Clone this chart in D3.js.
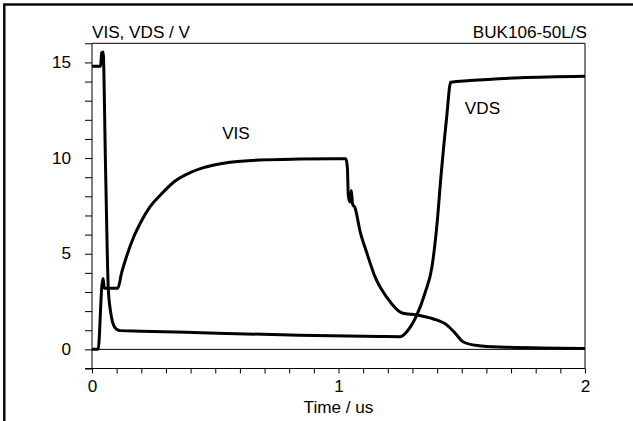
<!DOCTYPE html>
<html>
<head>
<meta charset="utf-8">
<script src="https://cdn.jsdelivr.net/npm/d3@7"></script>
<style>
  html, body { margin: 0; padding: 0; background: #fff; }
  svg { display: block; }
  text { font-family: "Liberation Sans", Arial, sans-serif; fill: #000; }
</style>
</head>
<body>
<svg id="chart" width="633" height="421"></svg>
<script>
// ---- data (time in us, voltage in V) ----
const vdsTime = [0, 0.035, 0.039, 0.045, 0.055, 0.066, 0.075, 0.082, 0.09, 0.1, 0.115, 0.2, 0.44, 0.84, 1.17, 1.25, 1.282, 1.318, 1.351, 1.379, 1.4, 1.416, 1.439, 1.455, 1.533, 1.736, 2.0];
const vdsVolt = [14.8, 14.8, 15.5, 15.55, 9.5, 3.2, 2.0, 1.5, 1.2, 1.05, 0.98, 0.95, 0.87, 0.74, 0.67, 0.66, 1.0, 1.8, 2.95, 4.3, 6.6, 9.1, 12.16, 13.96, 14.05, 14.2, 14.28];

const visTime = [0, 0.025, 0.04, 0.045, 0.05, 0.105, 0.12, 0.14, 0.17, 0.2, 0.235, 0.28, 0.337, 0.4, 0.44, 0.5, 0.56, 0.68, 0.84, 1.03, 1.036, 1.04, 1.047, 1.052, 1.057, 1.067, 1.087, 1.116, 1.148, 1.197, 1.258, 1.318, 1.383, 1.44, 1.473, 1.505, 1.562, 1.655, 2.0];
const visVolt = [0, 0, 3.3, 3.7, 3.2, 3.2, 4.0, 4.85, 5.9, 6.7, 7.45, 8.1, 8.8, 9.25, 9.45, 9.65, 9.78, 9.9, 9.95, 9.97, 9.5, 8.0, 7.7, 8.3, 7.6, 7.4, 6.2, 5.0, 3.8, 2.7, 1.9, 1.8, 1.6, 1.27, 0.85, 0.4, 0.2, 0.12, 0.05];

const xMajorTicks = [0, 1, 2];
const yMajorTicks = [0, 5, 10, 15];
const yTitle = "VIS, VDS / V";
const xTitle = "Time / us";
const deviceLabel = "BUK106-50L/S";
const seriesLabels = ["VIS", "VDS"];

// ---- layout ----
const svg = d3.select("#chart");
const L = 92, R = 585, T = 43.3, B = 368.5;
const x = d3.scaleLinear().domain([0, 2]).range([L, R]);
const y = d3.scaleLinear().domain([-1, 16]).range([B, T]);
const FS = 16;

// outer frame (top and left edges visible)
svg.append("rect").attr("x", 4.3).attr("y", 4.5).attr("width", 800).attr("height", 800)
  .attr("fill", "none").attr("stroke", "#000").attr("stroke-width", 2.4);

// plot box top and right
svg.append("line").attr("x1", L).attr("x2", R).attr("y1", T).attr("y2", T).attr("stroke", "#000").attr("stroke-width", 1);
svg.append("line").attr("x1", R).attr("x2", R).attr("y1", T).attr("y2", B).attr("stroke", "#000").attr("stroke-width", 1);

// zero line
svg.append("line").attr("x1", L).attr("x2", R).attr("y1", y(0)).attr("y2", y(0)).attr("stroke", "#000").attr("stroke-width", 1);

// y axis
const yTicks = d3.range(-1, 17, 1);
const yAxis = d3.axisLeft(y).tickValues(yTicks).tickSize(7).tickPadding(14)
  .tickFormat(d => yMajorTicks.includes(d) ? String(d) : "");
const gy = svg.append("g").attr("transform", `translate(${L},0)`).call(yAxis);
gy.select(".domain").remove();
gy.append("line").attr("x1", 0).attr("x2", 0).attr("y1", T).attr("y2", B).attr("stroke", "#000");
gy.selectAll(".tick line").attr("stroke", "#000");
gy.selectAll(".tick text").attr("font-size", FS).attr("font-family", "Liberation Sans, Arial, sans-serif").attr("fill", "#000");

// x axis
const xTicks = d3.range(0, 21).map(i => i / 10);
const xAxis = d3.axisBottom(x).tickValues(xTicks).tickSize(5).tickPadding(7)
  .tickFormat(d => xMajorTicks.some(m => Math.abs(m - d) < 1e-9) ? String(Math.round(d)) : "");
const gx = svg.append("g").attr("transform", `translate(0,${B})`).call(xAxis);
gx.select(".domain").remove();
gx.append("line").attr("x1", L - 7).attr("x2", R).attr("y1", 0).attr("y2", 0).attr("stroke", "#000");
gx.selectAll(".tick line").attr("stroke", "#000");
gx.selectAll(".tick text").attr("font-size", FS).attr("font-family", "Liberation Sans, Arial, sans-serif").attr("fill", "#000");

// curves
const line = d3.line().x(d => x(d[0])).y(d => y(d[1])).curve(d3.curveMonotoneX);
const vds = vdsTime.map((t, i) => [t, vdsVolt[i]]);
const vis = visTime.map((t, i) => [t, visVolt[i]]);
[vds, vis].forEach(s => {
  svg.append("path").datum(s).attr("d", line).attr("fill", "none")
    .attr("stroke", "#000").attr("stroke-width", 3).attr("stroke-linejoin", "round");
});

// texts
svg.append("text").attr("x", L).attr("y", 38).attr("font-size", FS).text(yTitle);
svg.append("text").attr("x", 587).attr("y", 38).attr("font-size", FS).attr("text-anchor", "end").text(deviceLabel);
svg.append("text").attr("x", (L + R) / 2).attr("y", 413).attr("font-size", FS).attr("text-anchor", "middle").text(xTitle);
svg.append("text").attr("x", x(0.584)).attr("y", y(11.0)).attr("font-size", FS).attr("text-anchor", "middle").text(seriesLabels[0]);
svg.append("text").attr("x", x(1.584)).attr("y", y(12.3)).attr("font-size", FS).attr("text-anchor", "middle").text(seriesLabels[1]);

// the reference lettering is slightly wider than Liberation Sans: stretch horizontally
svg.selectAll("text").each(function () {
  const t = this.textContent;
  if (!t) return;
  const w = this.getComputedTextLength();
  d3.select(this).attr("textLength", w * 1.07).attr("lengthAdjust", "spacingAndGlyphs");
});
</script>
</body>
</html>
